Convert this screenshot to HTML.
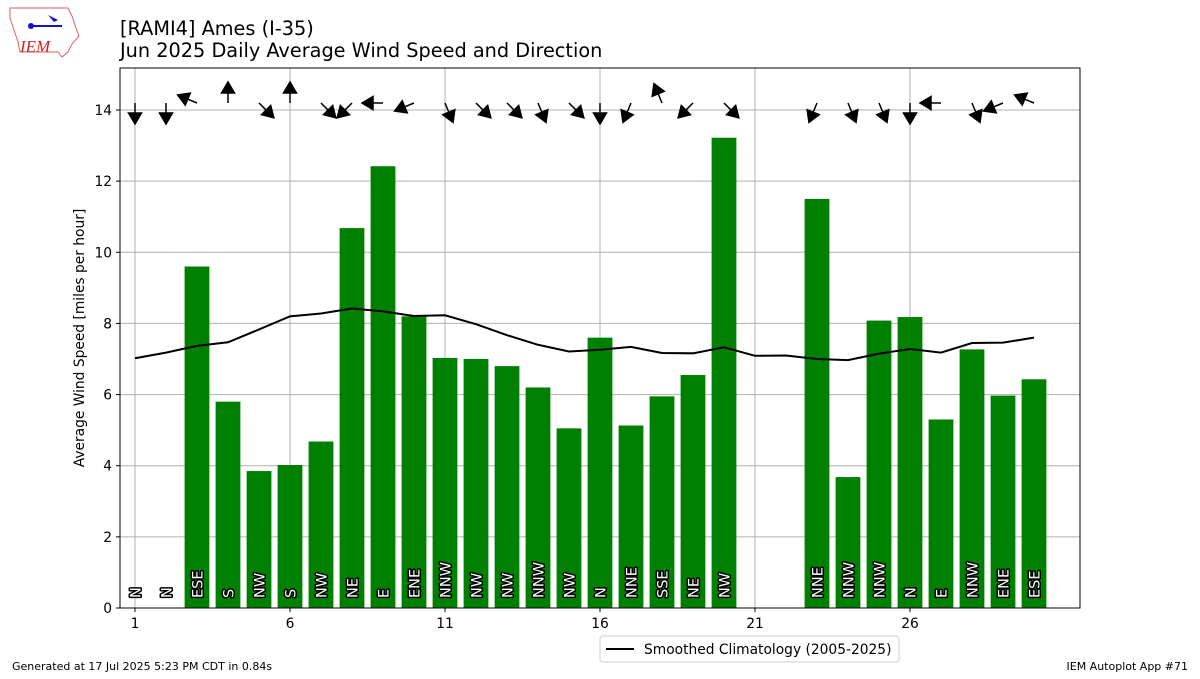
<!DOCTYPE html>
<html><head><meta charset="utf-8"><style>
body{margin:0;background:#fff;width:1200px;height:675px;overflow:hidden;font-family:"DejaVu Sans","Liberation Sans",sans-serif}
</style></head><body>
<svg id="chart" width="1200" height="675" viewBox="0 0 1200 675" xmlns="http://www.w3.org/2000/svg" font-family="DejaVu Sans, Liberation Sans, sans-serif">
<g>
<path d="M10 8 L68 8 L72 16 L76 28 L79 36 L72 44 L68 52 L62 57 L58 52 L20 52 L18 42 L14 30 L10 18 Z" fill="none" stroke="#e06060" stroke-width="1"/>
<line x1="30" y1="26" x2="62" y2="26" stroke="#1010d0" stroke-width="2"/>
<circle cx="31" cy="26" r="3" fill="#1010d0"/>
<path d="M48 15 L58 20 L54 22 Z" fill="#1010d0"/>
<text x="20" y="52" font-family="Liberation Serif, serif" font-style="italic" font-size="17" fill="#d02020">IEM</text>
</g>
<text x="120" y="35" font-size="19.3" fill="#000">[RAMI4] Ames (I-35)</text>
<text x="120" y="57" font-size="19.3" fill="#000">Jun 2025 Daily Average Wind Speed and Direction</text>
<g id="grid"></g>
<g id="bars"></g>
<g id="clim"></g>
<g id="arrows"></g>
<rect x="120" y="68" width="960" height="540" fill="none" stroke="#000" stroke-width="1"/>
<g id="axes"></g>
<text transform="translate(84,338) rotate(-90)" text-anchor="middle" font-size="13.8">Average Wind Speed [miles per hour]</text>
<g>
<rect x="600" y="636" width="299" height="26" rx="3" fill="#fff" stroke="#ccc"/>
<line x1="606" y1="649" x2="634" y2="649" stroke="#000" stroke-width="2"/>
<text x="644" y="654" font-size="13.8">Smoothed Climatology (2005-2025)</text>
</g>
<text x="12" y="670" font-size="11">Generated at 17 Jul 2025 5:23 PM CDT in 0.84s</text>
<text x="1188" y="670" font-size="11" text-anchor="end">IEM Autoplot App #71</text>
</svg>
<script>
const days=[1,2,3,4,5,6,7,8,9,10,11,12,13,14,15,16,17,18,19,20,23,24,25,26,27,28,29,30];
const speeds=[0,0,9.6,5.8,3.85,4.02,4.68,10.68,12.42,8.2,7.03,7.0,6.8,6.2,5.05,7.6,5.13,5.95,6.55,13.22,11.5,3.68,8.08,8.18,5.3,7.27,5.97,6.43];
const dirs=["N","N","ESE","S","NW","S","NW","NE","E","ENE","NNW","NW","NW","NNW","NW","N","NNE","SSE","NE","NW","NNE","NNW","NNW","N","E","NNW","ENE","ESE"];
const climDays=[1,2,3,4,5,6,7,8,9,10,11,12,13,14,15,16,17,18,19,20,21,22,23,24,25,26,27,28,29,30];
const climVals=[7.02,7.18,7.37,7.47,7.83,8.2,8.28,8.42,8.34,8.21,8.23,7.98,7.67,7.4,7.21,7.26,7.34,7.17,7.16,7.33,7.09,7.1,7.0,6.97,7.15,7.28,7.18,7.45,7.46,7.6];
const xTicks=[1,6,11,16,21,26];
const yTicks=[0,2,4,6,8,10,12,14];
const NS="http://www.w3.org/2000/svg";
const X=d=>135+(d-1)*31;
const Y=v=>608-v*35.571;
function mk(tag,attrs,parent){const e=document.createElementNS(NS,tag);for(const k in attrs)e.setAttribute(k,attrs[k]);document.getElementById(parent).appendChild(e);return e;}
const comp=["N","NNE","NE","ENE","E","ESE","SE","SSE","S","SSW","SW","WSW","W","WNW","NW","NNW"];
xTicks.forEach(t=>{
 let g=mk('line',{x1:X(t),x2:X(t),y1:68,y2:608,stroke:'#b0b0b0','stroke-width':1},'grid');
 
 let l=mk('line',{x1:X(t),x2:X(t),y1:608,y2:612,stroke:'#000'},'axes');
 
 let tx=mk('text',{x:X(t),y:628,'font-size':13.8,'text-anchor':'middle'},'axes');tx.textContent=t;
 
});
yTicks.forEach(t=>{
 let g=mk('line',{x1:120,x2:1080,y1:Y(t),y2:Y(t),stroke:'#b0b0b0','stroke-width':1},'grid');
 
 let l=mk('line',{x1:116,x2:120,y1:Y(t),y2:Y(t),stroke:'#000'},'axes');
 
 let tx=mk('text',{x:112,y:Y(t)+5,'font-size':13.8,'text-anchor':'end'},'axes');tx.textContent=t;
 
});
days.forEach((d,i)=>{
 const v=speeds[i];
 let r=mk('rect',{x:X(d)-12.4,y:Y(v),width:24.8,height:608-Y(v),fill:'#008000'},'bars');
 
 let t=mk('text',{transform:`translate(${X(d)+5.5},598) rotate(-90)`,'font-size':14.5,fill:'#fff',stroke:'#000','stroke-width':3,'paint-order':'stroke','stroke-linejoin':'round'},'bars');
 t.textContent=dirs[i];
 
 const ang=comp.indexOf(dirs[i])*22.5*Math.PI/180;
 const dx=-Math.sin(ang),dy=Math.cos(ang);
 const x0=X(d),y0=103,L=21,hl=11,hw=6.5;
 const x1=x0+dx*L,y1=y0+dy*L,bx=x1-dx*hl,by=y1-dy*hl;
 const px=-dy,py=dx;
 let a=mk('path',{d:`M${x0},${y0} L${bx},${by} M${bx+px*hw},${by+py*hw} L${x1},${y1} L${bx-px*hw},${by-py*hw} Z`,stroke:'#000','stroke-width':1.5,fill:'#000'},'arrows');
 
});
let p=mk('polyline',{points:climDays.map((d,i)=>X(d)+','+Y(climVals[i])).join(' '),fill:'none',stroke:'#000','stroke-width':2},'clim');

</script>
</body></html>
